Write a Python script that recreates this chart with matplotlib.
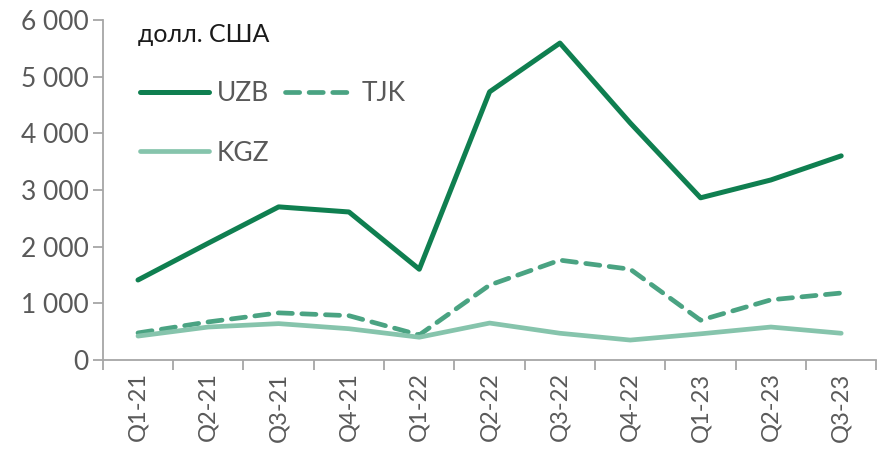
import numpy as np
import matplotlib.pyplot as plt

quarters = ["Q1-21", "Q2-21", "Q3-21", "Q4-21", "Q1-22", "Q2-22",
            "Q3-22", "Q4-22", "Q1-23", "Q2-23", "Q3-23"]
uzb = [1410, 2060, 2700, 2610, 1600, 4730, 5590, 4180, 2860, 3175, 3600]
tjk = [476, 670, 830, 780, 440, 1320, 1760, 1600, 700, 1060, 1180]
kgz = [420, 580, 640, 550, 400, 650, 470, 350, 460, 580, 470]
yticks = [0, 1000, 2000, 3000, 4000, 5000, 6000]
ytick_labels = ["0", "1 000", "2 000", "3 000", "4 000", "5 000", "6 000"]

plt.rcParams['font.family'] = ['Lato', 'DejaVu Sans']

fig = plt.figure(figsize=(8.79, 4.51), dpi=100)
ax = fig.add_axes([0.117, 0.202, 0.88, 0.754])

x = np.arange(len(quarters))
l_uzb, = ax.plot(x, uzb, color="#0f7f50", lw=3.6, label="UZB", solid_capstyle='round')
l_tjk, = ax.plot(x, tjk, color="#4aa382", lw=3.4, ls=(0, (3, 2)), label="TJK", dash_capstyle='round')
l_kgz, = ax.plot(x, kgz, color="#86c4ac", lw=3.4, label="KGZ", solid_capstyle='round')

ax.set_xlim(-0.5, len(quarters) - 0.5)
ax.set_ylim(0, 6000)
ax.set_yticks(yticks)
ax.set_yticklabels(ytick_labels)
ax.set_xticks(x)
ax.set_xticklabels(quarters, rotation=90)
ax.set_xticks(np.arange(-0.5, len(quarters)), minor=True)

for s in ["top", "right"]:
    ax.spines[s].set_visible(False)
for s in ["left", "bottom"]:
    ax.spines[s].set_color("#a6a6a6")
    ax.spines[s].set_linewidth(1.3)

ax.tick_params(axis='y', length=7, width=1.3, color="#a6a6a6", labelsize=19, labelcolor="#595959", pad=3)
ax.tick_params(axis='x', which='major', length=0, labelsize=17, labelcolor="#595959", pad=9)
ax.tick_params(axis='x', which='minor', length=7, width=1.3, color="#a6a6a6")

ax.text(0.045, 0.99, "долл. США", transform=ax.transAxes, fontsize=18, color="#1a1a1a", va='top')

# column-major fill: put TJK in second column
ax.legend([l_uzb, l_kgz, l_tjk], ["UZB", "KGZ", "TJK"],
          loc='upper left', bbox_to_anchor=(0.035, 0.85), ncol=2, frameon=False,
          fontsize=19, labelcolor="#595959", handlelength=2.6, handletextpad=0.3,
          columnspacing=0.6, labelspacing=1.3, borderaxespad=0)

fig.savefig("out.png", dpi=100)
